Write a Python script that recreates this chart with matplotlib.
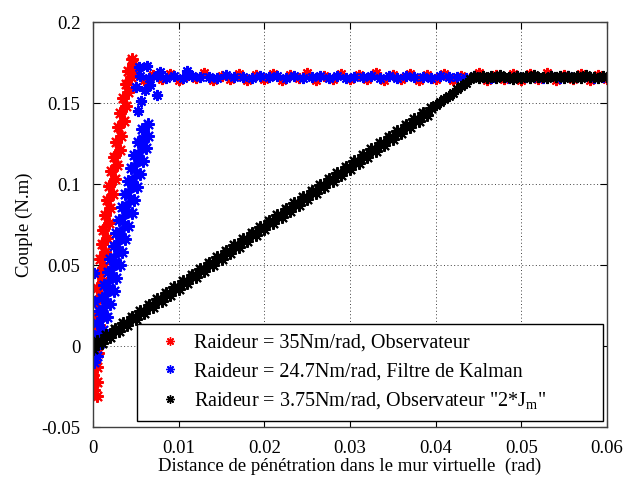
import matplotlib
matplotlib.use("Agg")
import matplotlib.pyplot as plt
from matplotlib.ticker import FuncFormatter

plt.rcParams['font.family'] = ['Liberation Serif', 'DejaVu Serif']
plt.rcParams['mathtext.fontset'] = 'custom'
plt.rcParams['mathtext.rm'] = 'Liberation Serif'
plt.rcParams['mathtext.it'] = 'Liberation Serif:italic'

# ---------------- data ----------------
labels = ["Raideur = 35Nm/rad, Observateur",
          "Raideur = 24.7Nm/rad, Filtre de Kalman",
          r'Raideur = 3.75Nm/rad, Observateur "2*J$_{\rm m}$"']

# red series: rising part
red_rise_x = [0.0004, 0.0001, 0.0005, 0.0000, 0.0004, 0.0001, 0.0006, 0.0000, 0.0005, 0.0002,
              0.0007, 0.0002, 0.0008, 0.0003, 0.0009, 0.0005, 0.0011, 0.0006, 0.0013, 0.0008,
              0.0014, 0.0010, 0.0016, 0.0011, 0.0018, 0.0014, 0.0020, 0.0016, 0.0023, 0.0019,
              0.0026, 0.0021, 0.0028, 0.0024, 0.0031, 0.0027, 0.0033, 0.0029, 0.0036, 0.0032,
              0.0039, 0.0035, 0.0041, 0.0038, 0.0044, 0.0041, 0.0047, 0.0045]
red_rise_y = [-0.031, -0.027, -0.022, -0.018, -0.013, -0.009, -0.004, 0.000, 0.004, 0.009,
              0.013, 0.018, 0.022, 0.027, 0.031, 0.036, 0.040, 0.045, 0.049, 0.054,
              0.058, 0.063, 0.067, 0.072, 0.076, 0.081, 0.085, 0.090, 0.094, 0.099,
              0.103, 0.108, 0.112, 0.117, 0.121, 0.126, 0.130, 0.135, 0.139, 0.144,
              0.148, 0.153, 0.157, 0.162, 0.166, 0.170, 0.174, 0.177]
# red series: saturated part
red_sat_x = [0.0050, 0.0060, 0.0070, 0.0080, 0.0090, 0.0100, 0.0110, 0.0120, 0.0130, 0.0140,
             0.0150, 0.0160, 0.0170, 0.0180, 0.0190, 0.0200, 0.0210, 0.0220, 0.0230, 0.0240,
             0.0250, 0.0260, 0.0270, 0.0280, 0.0290, 0.0300, 0.0310, 0.0320, 0.0330, 0.0340,
             0.0350, 0.0360, 0.0370, 0.0380, 0.0390, 0.0400, 0.0410, 0.0420, 0.0430, 0.0440,
             0.0450, 0.0460, 0.0470, 0.0480, 0.0490, 0.0500, 0.0510, 0.0520, 0.0530, 0.0540,
             0.0550, 0.0560, 0.0570, 0.0580, 0.0590, 0.0600]
red_sat_y = [0.1685, 0.1640, 0.1672, 0.1648, 0.1680, 0.1644, 0.1676, 0.1652, 0.1683, 0.1641,
             0.1670, 0.1650, 0.1682, 0.1645, 0.1674, 0.1647, 0.1680, 0.1642, 0.1671, 0.1653,
             0.1684, 0.1643, 0.1669, 0.1649, 0.1681, 0.1646, 0.1675, 0.1651, 0.1683, 0.1640,
             0.1672, 0.1648, 0.1679, 0.1644, 0.1676, 0.1650, 0.1682, 0.1643, 0.1670, 0.1652,
             0.1685, 0.1641, 0.1673, 0.1647, 0.1680, 0.1645, 0.1677, 0.1649, 0.1683, 0.1642,
             0.1671, 0.1651, 0.1681, 0.1644, 0.1675, 0.1648]

# blue series: rising band
blue_rise_x = [0.0001, 0.0004, 0.0000, 0.0008, 0.0005, 0.0001, 0.0012, 0.0004, 0.0016, 0.0011,
               0.0007, 0.0020, 0.0010, 0.0024, 0.0018, 0.0013, 0.0027, 0.0017, 0.0031, 0.0025,
               0.0020, 0.0034, 0.0024, 0.0037, 0.0032, 0.0027, 0.0041, 0.0030, 0.0045, 0.0039,
               0.0034, 0.0048, 0.0037, 0.0051, 0.0046, 0.0041, 0.0055, 0.0044, 0.0058, 0.0053,
               0.0048, 0.0062, 0.0052, 0.0058, 0.0064, 0.0057, 0.0064]
blue_rise_y = [-0.010, -0.006, -0.002, 0.002, 0.004, 0.006, 0.010, 0.014, 0.018, 0.020,
               0.022, 0.026, 0.030, 0.034, 0.036, 0.038, 0.042, 0.046, 0.050, 0.052,
               0.054, 0.058, 0.062, 0.066, 0.068, 0.070, 0.074, 0.078, 0.082, 0.084,
               0.086, 0.090, 0.094, 0.098, 0.100, 0.102, 0.106, 0.110, 0.114, 0.116,
               0.118, 0.122, 0.126, 0.128, 0.130, 0.134, 0.137]
# blue series: isolated points
blue_out_x = [0.0001, 0.0001, 0.0052, 0.0056, 0.0061, 0.0050, 0.0054, 0.0063, 0.0078,
              0.0110, 0.0066, 0.0075]
blue_out_y = [0.045, 0.028, 0.145, 0.151, 0.158, 0.160, 0.172, 0.173, 0.169,
              0.170, 0.161, 0.155]
# blue series: saturated part
blue_sat_x = [0.0055, 0.0065, 0.0075, 0.0085, 0.0095, 0.0105, 0.0115, 0.0125, 0.0135, 0.0145,
              0.0155, 0.0165, 0.0175, 0.0185, 0.0195, 0.0205, 0.0215, 0.0225, 0.0235, 0.0245,
              0.0255, 0.0265, 0.0275, 0.0285, 0.0295, 0.0305, 0.0315, 0.0325, 0.0335, 0.0345,
              0.0355, 0.0365, 0.0375, 0.0385, 0.0395, 0.0405, 0.0415, 0.0425, 0.0435, 0.0445,
              0.0455, 0.0465, 0.0475, 0.0485, 0.0495, 0.0505, 0.0515, 0.0525, 0.0535, 0.0545,
              0.0555, 0.0565, 0.0575, 0.0585, 0.0595]
blue_sat_y = [0.1665, 0.1655, 0.1670, 0.1658, 0.1666, 0.1652, 0.1668, 0.1660, 0.1664, 0.1656,
              0.1671, 0.1659, 0.1663, 0.1654, 0.1669, 0.1661, 0.1665, 0.1657, 0.1667, 0.1653,
              0.1662, 0.1670, 0.1658, 0.1666, 0.1655, 0.1664, 0.1660, 0.1668, 0.1657, 0.1665,
              0.1653, 0.1669, 0.1661, 0.1663, 0.1656, 0.1667, 0.1659, 0.1664, 0.1654, 0.1670,
              0.1662, 0.1658, 0.1666, 0.1655, 0.1668, 0.1660, 0.1663, 0.1657, 0.1669, 0.1654,
              0.1665, 0.1661, 0.1667, 0.1656, 0.1664]

# black series: rising part
black_rise_x = [0.0000, 0.0005, 0.0010, 0.0015, 0.0020, 0.0025, 0.0030, 0.0035, 0.0040, 0.0045,
                0.0050, 0.0055, 0.0060, 0.0065, 0.0070, 0.0075, 0.0080, 0.0085, 0.0090, 0.0095,
                0.0100, 0.0105, 0.0110, 0.0115, 0.0120, 0.0125, 0.0130, 0.0135, 0.0140, 0.0145,
                0.0150, 0.0155, 0.0160, 0.0165, 0.0170, 0.0175, 0.0180, 0.0185, 0.0190, 0.0195,
                0.0200, 0.0205, 0.0210, 0.0215, 0.0220, 0.0225, 0.0230, 0.0235, 0.0240, 0.0245,
                0.0250, 0.0255, 0.0260, 0.0265, 0.0270, 0.0275, 0.0280, 0.0285, 0.0290, 0.0295,
                0.0300, 0.0305, 0.0310, 0.0315, 0.0320, 0.0325, 0.0330, 0.0335, 0.0340, 0.0345,
                0.0350, 0.0355, 0.0360, 0.0365, 0.0370, 0.0375, 0.0380, 0.0385, 0.0390, 0.0395]
black_rise_y = [-0.0020, 0.0033, 0.0022, 0.0071, 0.0058, 0.0109, 0.0096, 0.0146, 0.0131, 0.0183,
                0.0168, 0.0220, 0.0205, 0.0257, 0.0243, 0.0294, 0.0280, 0.0331, 0.0316, 0.0368,
                0.0353, 0.0405, 0.0390, 0.0442, 0.0427, 0.0479, 0.0464, 0.0516, 0.0501, 0.0553,
                0.0538, 0.0590, 0.0575, 0.0627, 0.0612, 0.0664, 0.0649, 0.0701, 0.0686, 0.0738,
                0.0723, 0.0775, 0.0760, 0.0812, 0.0797, 0.0849, 0.0834, 0.0886, 0.0871, 0.0923,
                0.0908, 0.0960, 0.0945, 0.0997, 0.0982, 0.1034, 0.1019, 0.1071, 0.1056, 0.1108,
                0.1093, 0.1145, 0.1130, 0.1182, 0.1167, 0.1219, 0.1204, 0.1256, 0.1241, 0.1293,
                0.1278, 0.1330, 0.1315, 0.1367, 0.1352, 0.1404, 0.1389, 0.1441, 0.1426, 0.1470]
# black series: thin tail before saturation
black_tail_x = [0.0400, 0.0405, 0.0410, 0.0415, 0.0420, 0.0425, 0.0430, 0.0435, 0.0440]
black_tail_y = [0.1490, 0.1505, 0.1525, 0.1545, 0.1565, 0.1585, 0.1605, 0.1625, 0.1650]
# black series: saturated part
black_sat_x = [0.0445, 0.0450, 0.0455, 0.0460, 0.0465, 0.0470, 0.0475, 0.0480, 0.0485, 0.0490,
               0.0495, 0.0500, 0.0505, 0.0510, 0.0515, 0.0520, 0.0525, 0.0530, 0.0535, 0.0540,
               0.0545, 0.0550, 0.0555, 0.0560, 0.0565, 0.0570, 0.0575, 0.0580, 0.0585, 0.0590,
               0.0595, 0.0600]
black_sat_y = [0.1665, 0.1652, 0.1670, 0.1658, 0.1667, 0.1654, 0.1671, 0.1660, 0.1664, 0.1651,
               0.1669, 0.1657, 0.1666, 0.1653, 0.1672, 0.1659, 0.1663, 0.1655, 0.1668, 0.1661,
               0.1665, 0.1652, 0.1670, 0.1658, 0.1667, 0.1654, 0.1671, 0.1660, 0.1664, 0.1656,
               0.1669, 0.1662]

x_ticks = [0, 0.01, 0.02, 0.03, 0.04, 0.05, 0.06]
y_ticks = [-0.05, 0, 0.05, 0.1, 0.15, 0.2]

# ---------------- figure ----------------
fig = plt.figure(figsize=(6.42, 4.8), dpi=100)
ax = fig.add_axes([0.145, 0.11, 0.8005, 0.844])

mk = (8, 2, 0)
pts = dict(linestyle='none', marker=mk, markersize=8, markeredgewidth=1.5)
band = dict(linestyle='-', linewidth=5, marker=mk, markersize=9, markeredgewidth=1.5)
RED, BLUE, BLACK = '#ff0000', '#0000ff', '#000000'

ax.plot(red_rise_x, red_rise_y, color=RED, **band)
ax.plot(red_sat_x, red_sat_y, color=RED, label=labels[0], **pts)
ax.plot(blue_rise_x, blue_rise_y, color=BLUE, **band)
ax.plot(blue_out_x, blue_out_y, color=BLUE, **pts)
ax.plot(blue_sat_x, blue_sat_y, color=BLUE, label=labels[1], **pts)
ax.plot(black_rise_x, black_rise_y, color=BLACK, **band)
ax.plot(black_tail_x, black_tail_y, color=BLACK, **pts)
ax.plot(black_sat_x, black_sat_y, color=BLACK, label=labels[2], **pts)

ax.set_xlim(0, 0.06)
ax.set_ylim(-0.05, 0.2)
ax.set_xticks(x_ticks)
ax.set_yticks(y_ticks)
fmt = FuncFormatter(lambda v, p: ('%g' % v) if abs(v) > 1e-12 else '0')
ax.xaxis.set_major_formatter(fmt)
ax.yaxis.set_major_formatter(fmt)
ax.tick_params(direction='in', top=True, right=True, length=5, width=0.8,
               labelsize=13.5, pad=9)
ax.grid(True, color='0.25', linestyle=(0, (1, 2.5)), linewidth=0.7)
for s in ax.spines.values():
    s.set_linewidth(1.0)
    s.set_color('0.25')

ax.set_xlabel("Distance de pénétration dans le mur virtuelle  (rad)", fontsize=13.5, labelpad=1)
ax.set_ylabel("Couple (N.m)", fontsize=13.5, labelpad=6)

leg = ax.legend(loc='lower left', bbox_to_anchor=(0.0856, 0.015, 0.906, 0.25), mode='expand',
                fontsize=14.5, frameon=True, fancybox=False, framealpha=1, edgecolor='black',
                handlelength=2.3, handletextpad=0.05, borderpad=0.5, labelspacing=0.45,
                borderaxespad=0)
leg.get_frame().set_linewidth(1.0)
for h in leg.legend_handles:
    h.set_markersize(6)
    h.set_markeredgewidth(1.0)

fig.savefig("out.png", dpi=100)
